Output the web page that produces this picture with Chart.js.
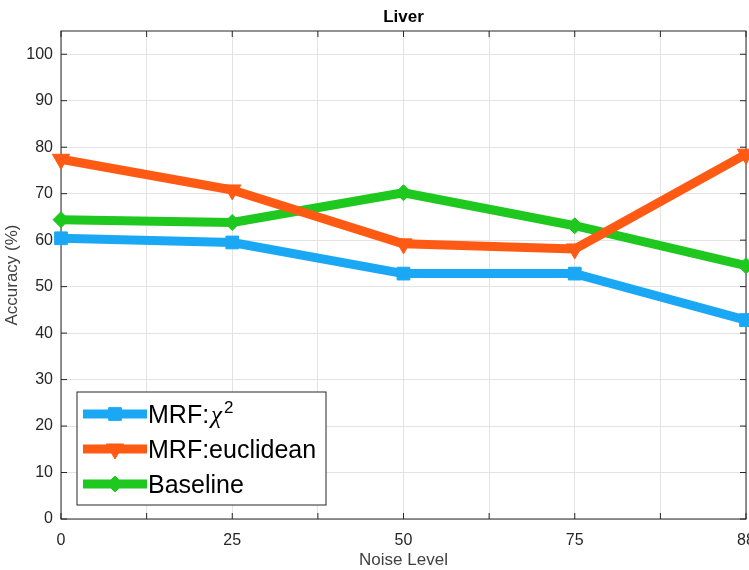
<!DOCTYPE html>
<html>
<head>
<meta charset="utf-8">
<script src="https://cdn.jsdelivr.net/npm/chart.js@4.4.1/dist/chart.umd.min.js"></script>
<style>
  html, body { margin: 0; padding: 0; background: #fff; }
  #wrap { width: 749px; height: 570px; }
</style>
</head>
<body>
<div id="wrap"><canvas id="chart" width="749" height="570"></canvas></div>
<script>
// values
const noiseLevels = ['0', '25', '50', '75', '88']
const chiSquare = [60.4, 59.5, 52.8, 52.8, 42.8]
const euclidean = [77.4, 70.8, 59.2, 58.1, 78.5]
const baseline = [64.4, 63.8, 70.2, 63.1, 54.5]

const INK = '#262626'
const LABEL = '#404040'
const GRID = '#e3e3e3'
const FONT = '"Liberation Sans", Arial, Helvetica, sans-serif'

const toPoints = values => values.map((v, i) => ({ x: i, y: v }))

function series(label, values, color, pointStyle, radius, rotation) {
  return {
    label,
    data: toPoints(values),
    borderColor: color,
    backgroundColor: color,
    pointBackgroundColor: color,
    pointBorderColor: color,
    borderWidth: 9,
    borderJoinStyle: 'round',
    pointStyle,
    pointRadius: radius,
    pointRotation: rotation,
    pointBorderWidth: 1,
    clip: false
  }
}

// draws a legend label, with the chi-square part set like TeX
function drawLabel(ctx, text, x, base) {
  ctx.fillStyle = '#000'
  ctx.textBaseline = 'alphabetic'
  ctx.textAlign = 'left'
  const chi = text.indexOf('χ')
  if (chi < 0) {
    ctx.font = `25px ${FONT}`
    ctx.fillText(text, x, base)
    return
  }
  const head = text.slice(0, chi)
  ctx.font = `25px ${FONT}`
  ctx.fillText(head, x, base)
  x += ctx.measureText(head).width + 2
  ctx.font = 'italic 25px "Liberation Serif", "DejaVu Serif", serif'
  ctx.fillText('χ', x, base)
  x += ctx.measureText('χ').width + 2
  ctx.font = `17px ${FONT}`
  ctx.fillText('2', x, base - 10)
}

const matlabFrame = {
  id: 'matlabFrame',
  beforeDatasetsDraw(chart) {
    const { ctx, chartArea: a, scales: { x, y } } = chart
    ctx.save()
    ctx.strokeStyle = INK
    ctx.lineWidth = 1
    ctx.strokeRect(a.left, a.top, a.right - a.left, a.bottom - a.top)
    // inward tick marks on all four sides
    ctx.beginPath()
    x.ticks.forEach(t => {
      const px = x.getPixelForValue(t.value)
      ctx.moveTo(px, a.top); ctx.lineTo(px, a.top + 6)
      ctx.moveTo(px, a.bottom); ctx.lineTo(px, a.bottom - 6)
    })
    y.ticks.forEach(t => {
      const py = y.getPixelForValue(t.value)
      ctx.moveTo(a.left, py); ctx.lineTo(a.left + 6, py)
      ctx.moveTo(a.right, py); ctx.lineTo(a.right - 6, py)
    })
    ctx.stroke()
    ctx.restore()
  },
  afterDraw(chart) {
    const { ctx, chartArea: a } = chart
    ctx.save()

    // title over the middle of the axes
    ctx.fillStyle = '#000'
    ctx.font = `bold 17px ${FONT}`
    ctx.textAlign = 'center'
    ctx.textBaseline = 'middle'
    ctx.fillText('Liver', (a.left + a.right) / 2, 17)

    // legend box, lower left inside the axes
    const bx = a.left + 16, by = a.bottom - 127, bw = 249, bh = 113
    ctx.fillStyle = '#fff'
    ctx.fillRect(bx, by, bw, bh)
    ctx.strokeStyle = INK
    ctx.lineWidth = 1
    ctx.strokeRect(bx, by, bw, bh)

    chart.data.datasets.forEach((d, i) => {
      const cy = by + 22 + i * 35
      ctx.strokeStyle = d.borderColor
      ctx.lineWidth = d.borderWidth
      ctx.lineCap = 'butt'
      ctx.beginPath()
      ctx.moveTo(bx + 6, cy)
      ctx.lineTo(bx + 70, cy)
      ctx.stroke()
      ctx.fillStyle = d.pointBackgroundColor
      ctx.lineWidth = 1
      Chart.helpers.drawPoint(ctx, {
        pointStyle: d.pointStyle,
        rotation: d.pointRotation,
        radius: d.pointRadius,
        borderWidth: 1
      }, bx + 38, cy)
      drawLabel(ctx, d.label, bx + 71, cy + 9)
    })
    ctx.restore()
  }
}

new Chart(document.getElementById('chart'), {
  type: 'line',
  data: {
    datasets: [
      series('MRF:χ2', chiSquare, '#1aa8f5', 'rect', 9, 0),
      series('MRF:euclidean', euclidean, '#ff5a14', 'triangle', 10, 180),
      series('Baseline', baseline, '#1ec81e', 'rectRot', 8, 0)
    ]
  },
  options: {
    responsive: false,
    animation: false,
    layout: { autoPadding: false, padding: { top: 31, right: 3, bottom: 0, left: 0 } },
    plugins: {
      legend: { display: false },
      title: { display: false },
      tooltip: { enabled: false }
    },
    scales: {
      x: {
        type: 'linear',
        min: 0,
        max: 4,
        ticks: {
          stepSize: 0.5,
          autoSkip: false,
          maxRotation: 0,
          padding: 12,
          color: INK,
          font: { family: FONT, size: 16 },
          callback: v => Number.isInteger(v) ? noiseLevels[v] : ''
        },
        grid: { color: GRID, drawTicks: false },
        border: { display: false },
        title: {
          display: true,
          text: 'Noise Level',
          color: LABEL,
          font: { family: FONT, size: 17 },
          padding: { top: 0, bottom: -1 }
        },
        afterFit: s => { s.height = 51; s.paddingLeft = 0; s.paddingRight = 0 }
      },
      y: {
        min: 0,
        max: 105,
        ticks: {
          stepSize: 10,
          padding: 8,
          color: INK,
          font: { family: FONT, size: 16 }
        },
        afterBuildTicks: s => { s.ticks = s.ticks.filter(t => t.value <= 100) },
        grid: { color: GRID, drawTicks: false },
        border: { display: false },
        title: {
          display: true,
          text: 'Accuracy (%)',
          color: LABEL,
          font: { family: FONT, size: 17 },
          padding: { top: 2, bottom: 0 }
        },
        afterFit: s => { s.width = 61; s.paddingTop = 0; s.paddingBottom = 0 }
      }
    }
  },
  plugins: [matlabFrame]
})
</script>
</body>
</html>
